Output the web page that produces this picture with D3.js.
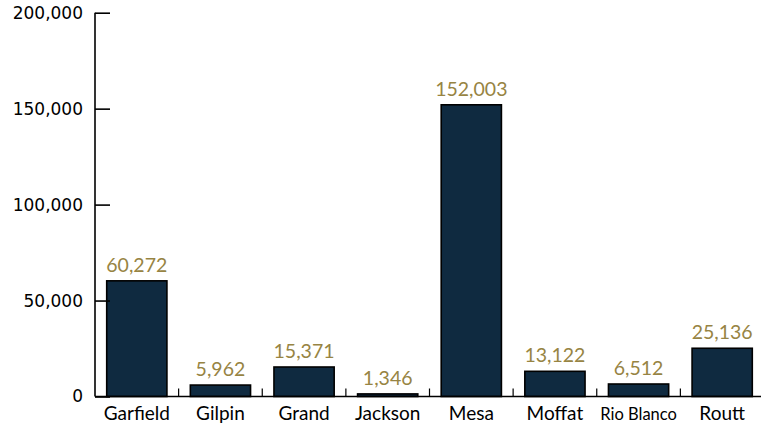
<!DOCTYPE html>
<html><head><meta charset="utf-8">
<script src="https://cdn.jsdelivr.net/npm/d3@7"></script>
<style>body{margin:0;background:#fff}svg{display:block}</style>
</head><body>
<svg id="c" width="761" height="427"></svg>
<script>
const counties = ["Garfield","Gilpin","Grand","Jackson","Mesa","Moffat","Rio Blanco","Routt"];
const population = [60272,5962,15371,1346,152003,13122,6512,25136];
const yTicks = [0,50000,100000,150000,200000];

const svg = d3.select("#c");
const x = d3.scaleBand().domain(counties).range([95,764]).paddingInner(0.28).paddingOuter(0.14);
const y = d3.scaleLinear().domain([0,200000]).range([396.5,12.7]);
const fmt = d3.format(",");
const lab = "Lato, 'Open Sans', sans-serif";

// bars
svg.append("g").selectAll("rect").data(counties).join("rect")
  .attr("x", d=>x(d)).attr("width", x.bandwidth())
  .attr("y", (d,i)=>y(population[i])).attr("height", (d,i)=>y(0)-y(population[i]))
  .attr("fill","#0f2a40").attr("stroke","#000").attr("stroke-width",1.6);

// value labels
svg.append("g").selectAll("text").data(counties).join("text")
  .attr("x", d=>x(d)+x.bandwidth()/2).attr("y",(d,i)=>y(population[i])-9)
  .attr("text-anchor","middle").attr("fill","#978443")
  .attr("font-family",lab).attr("font-size",19.5)
  .text((d,i)=>fmt(population[i]));

// y axis
const ya = svg.append("g").attr("transform","translate(95,0)")
  .call(d3.axisRight(y).tickValues(yTicks).tickSize(15).tickFormat(fmt));
ya.select(".domain").attr("stroke","#000").attr("stroke-width",1.6).attr("d","M0,12.7V396.5");
ya.selectAll(".tick line").attr("stroke","#000").attr("stroke-width",1.6);
ya.selectAll(".tick text").attr("x",-12).attr("text-anchor","end")
  .attr("font-family","'DejaVu Sans'").attr("font-size",17).attr("fill","#000");

// x axis
const xa = svg.append("g").attr("transform",`translate(0,${y(0)})`);
xa.append("line").attr("x1",95).attr("x2",761).attr("stroke","#000").attr("stroke-width",1.6);
xa.selectAll("line.b").data(counties.slice(1)).join("line").attr("class","b")
  .attr("x1",d=>x(d)-x.step()*x.paddingInner()/2).attr("x2",d=>x(d)-x.step()*x.paddingInner()/2)
  .attr("y1",0).attr("y2",-8).attr("stroke","#000").attr("stroke-width",1.2);
xa.selectAll("text").data(counties).join("text")
  .attr("x",d=>x(d)+x.bandwidth()/2).attr("y",23)
  .attr("text-anchor","middle").attr("font-family",lab)
  .attr("font-size",d=>d==="Rio Blanco"?16.5:19).attr("fill","#000")
  .text(d=>d);
</script>
</body></html>
